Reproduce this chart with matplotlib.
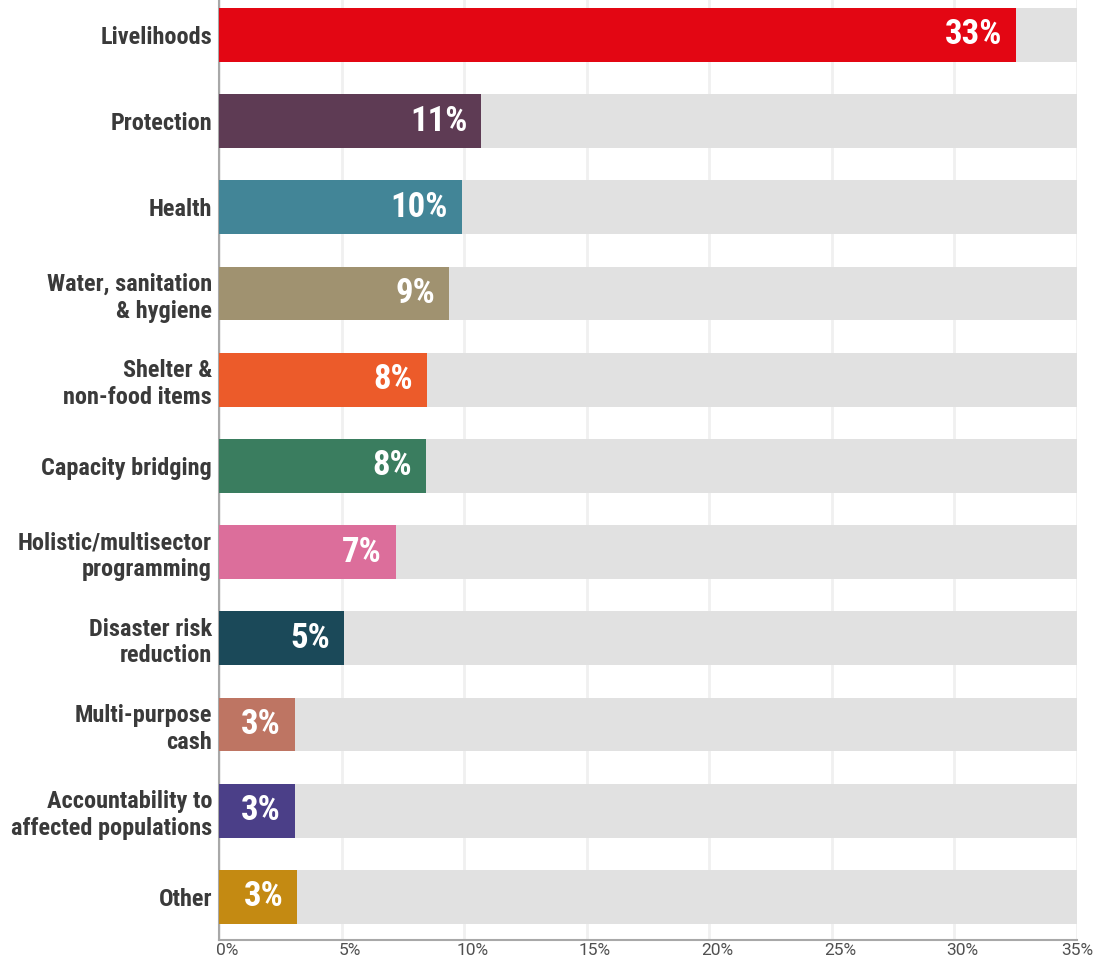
import matplotlib
matplotlib.use("Agg")
import matplotlib.pyplot as plt
from matplotlib.transforms import ScaledTranslation

sectors = [
    "Livelihoods",
    "Protection",
    "Health",
    "Water, sanitation\n& hygiene",
    "Shelter &\nnon-food items",
    "Capacity bridging",
    "Holistic/multisector\nprogramming",
    "Disaster risk\nreduction",
    "Multi-purpose\ncash",
    "Accountability to\naffected populations",
    "Other",
]
shares = [32.5, 10.7, 9.9, 9.4, 8.49, 8.45, 7.2, 5.1, 3.1, 3.1, 3.2]
colors = ["#e30613", "#5e3b54", "#428597", "#a09270", "#ec5b2a", "#3a7d5f",
          "#dc6e9b", "#1b4959", "#be7563", "#4b3f88", "#c48a12"]
ticks = [0, 5, 10, 15, 20, 25, 30, 35]
xmax = 35

label_font = ["Roboto Condensed", "DejaVu Sans"]
tick_font = ["Roboto", "DejaVu Sans"]

fig = plt.figure(figsize=(10.98, 9.64), dpi=100)
ax = fig.add_axes([219 / 1098, 24 / 964, (1077 - 219) / 1098, 940 / 964])

ypos = list(range(len(sectors)))
bar_h = 0.625

# grey track behind every bar, then the share on top
ax.barh(ypos, [xmax] * len(ypos), height=bar_h, color="#e1e1e1", zorder=2)
ax.barh(ypos, shares, height=bar_h, color=colors, zorder=3)

pad = ScaledTranslation(-10 / 72, 0, fig.dpi_scale_trans)
for y, v in zip(ypos, shares):
    ax.text(v, y, f"{int(v + 0.5)}%", ha="right", va="center",
            color="white", fontsize=25, fontweight="bold", family=label_font,
            transform=ax.transData + pad, zorder=4)

ax.set_xlim(0, xmax)
ax.set_ylim(len(sectors) - 0.5, -0.405)

ax.set_yticks(ypos)
ax.set_yticklabels(sectors, fontsize=17.5, fontweight="bold", family=label_font,
                   color="#3a3a3a", linespacing=1.2)
ax.tick_params(axis="y", length=0, pad=5)

ax.set_xticks(ticks)
ax.set_xticklabels([f"{t}%" for t in ticks], fontsize=12.5, color="#505050",
                   family=tick_font)
ax.tick_params(axis="x", length=0, pad=2)
shift = ScaledTranslation(6 / 72, 0, fig.dpi_scale_trans)
for lbl in ax.get_xticklabels()[:-1]:
    lbl.set_transform(lbl.get_transform() + shift)

ax.grid(axis="x", color="#f0f0f0", linewidth=2, zorder=0)
ax.set_axisbelow(True)

for side in ["top", "right"]:
    ax.spines[side].set_visible(False)
for side in ["left", "bottom"]:
    ax.spines[side].set_color("#a8a8a8")
    ax.spines[side].set_linewidth(1.5)

fig.savefig("out.png", dpi=100)
